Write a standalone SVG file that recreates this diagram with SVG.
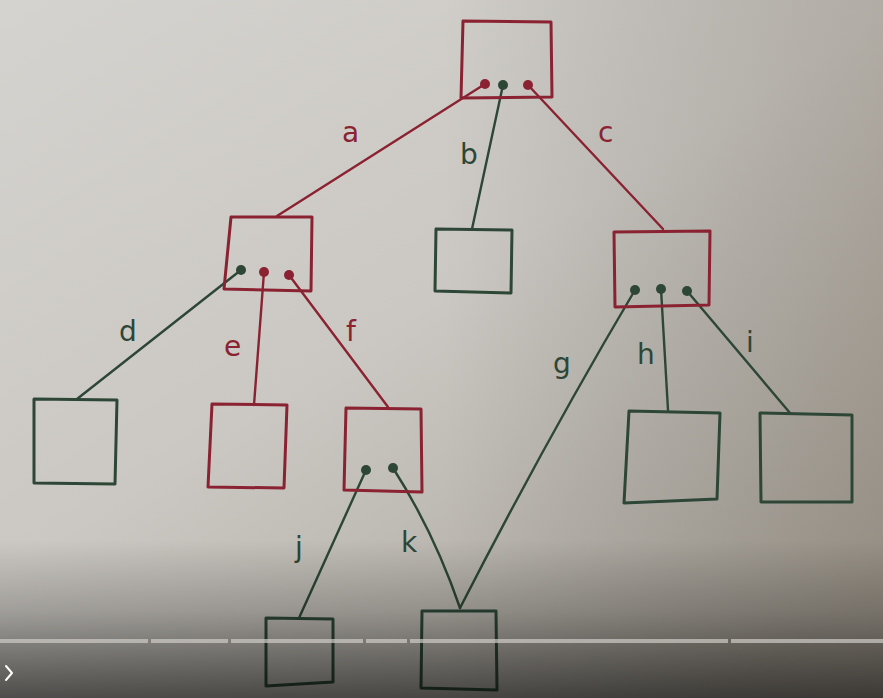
<svg xmlns="http://www.w3.org/2000/svg" width="883" height="698" viewBox="0 0 883 698">
  <defs>
    <linearGradient id="paper" x1="0" y1="0" x2="0.8" y2="1">
      <stop offset="0" stop-color="#d5d3cf"/>
      <stop offset="0.5" stop-color="#cbc8c3"/>
      <stop offset="1" stop-color="#a9a49b"/>
    </linearGradient>
    <linearGradient id="shade" x1="0" y1="0" x2="0" y2="1">
      <stop offset="0" stop-color="#000" stop-opacity="0"/>
      <stop offset="0.45" stop-color="#000" stop-opacity="0.2"/>
      <stop offset="1" stop-color="#000" stop-opacity="0.6"/>
    </linearGradient>
    <linearGradient id="shadeX" x1="0" y1="0" x2="1" y2="0">
      <stop offset="0" stop-color="#000" stop-opacity="0"/>
      <stop offset="0.5" stop-color="#000" stop-opacity="0"/>
      <stop offset="1" stop-color="#3a2a18" stop-opacity="0.18"/>
    </linearGradient>
  </defs>
  <style>
    .red { stroke: #8a2232; }
    .green { stroke: #2d4636; }
    .box { fill: none; stroke-width: 3; stroke-linejoin: round; stroke-linecap: round; }
    .edge { fill: none; stroke-width: 2.4; stroke-linecap: round; }
    .dotr { fill: #8a2232; }
    .dotg { fill: #2d4636; }
    .lbl { font-family: "DejaVu Sans", "Noto Sans", sans-serif; font-size: 28px; }
    .lr { fill: #8a2232; }
    .lg { fill: #2d4636; }
  </style>

  <!-- paper -->
  <rect width="883" height="698" fill="url(#paper)"/>
  <rect width="883" height="698" fill="url(#shadeX)"/>

  <!-- connectors -->
  <g id="connectors">
    <path class="edge red" d="M485 84 L277 216"/>
    <path class="edge green" d="M503 85 L472 229"/>
    <path class="edge red" d="M528 85 L663 229"/>
    <path class="edge green" d="M241 270 L77 399"/>
    <path class="edge red" d="M264 272 L254 405"/>
    <path class="edge red" d="M289 275 L388 407"/>
    <path class="edge green" d="M635 290 Q545 442 460 608"/>
    <path class="edge green" d="M661 289 L668 410"/>
    <path class="edge green" d="M687 291 L790 413"/>
    <path class="edge green" d="M366 470 L299 618"/>
    <path class="edge green" d="M393 468 Q434 532 460 608"/>

    <text class="lbl lr" x="342" y="142">a</text>
    <text class="lbl lg" x="460" y="164">b</text>
    <text class="lbl lr" x="598" y="142">c</text>
    <text class="lbl lg" x="119" y="341">d</text>
    <text class="lbl lr" x="224" y="356">e</text>
    <text class="lbl lr" x="346" y="341">f</text>
    <text class="lbl lg" x="553" y="373">g</text>
    <text class="lbl lg" x="637" y="364">h</text>
    <text class="lbl lg" x="746" y="352">i</text>
    <text class="lbl lg" x="295" y="557">j</text>
    <text class="lbl lg" x="401" y="552">k</text>
  </g>

  <!-- nodes -->
  <g id="root">
    <path class="box red" d="M463 21 L551 22 L552 97 L461 98 Z"/>
    <circle class="dotr" cx="485" cy="84" r="5"/>
    <circle class="dotg" cx="503" cy="85" r="5"/>
    <circle class="dotr" cx="528" cy="85" r="5"/>
  </g>
  <g id="node-a">
    <path class="box red" d="M231 217 L312 217 L311 291 L224 289 Z"/>
    <circle class="dotg" cx="241" cy="270" r="5"/>
    <circle class="dotr" cx="264" cy="272" r="5"/>
    <circle class="dotr" cx="289" cy="275" r="5"/>
  </g>
  <g id="node-b">
    <path class="box green" d="M436 229 L512 230 L511 293 L435 291 Z"/>
  </g>
  <g id="node-c">
    <path class="box red" d="M614 232 L710 231 L709 305 L615 307 Z"/>
    <circle class="dotg" cx="635" cy="290" r="5"/>
    <circle class="dotg" cx="661" cy="289" r="5"/>
    <circle class="dotg" cx="687" cy="291" r="5"/>
  </g>
  <g id="node-d">
    <path class="box green" d="M34 399 L117 400 L115 484 L34 483 Z"/>
  </g>
  <g id="node-e">
    <path class="box red" d="M212 404 L287 405 L284 488 L208 487 Z"/>
  </g>
  <g id="node-f">
    <path class="box red" d="M346 408 L421 409 L422 492 L344 490 Z"/>
    <circle class="dotg" cx="366" cy="470" r="5"/>
    <circle class="dotg" cx="393" cy="468" r="5"/>
  </g>
  <g id="node-h">
    <path class="box green" d="M629 411 L720 413 L717 499 L624 503 Z"/>
  </g>
  <g id="node-i">
    <path class="box green" d="M760 413 L852 415 L852 502 L761 502 Z"/>
  </g>
  <g id="node-j">
    <path class="box green" d="M266 618 L333 619 L333 682 L266 686 Z"/>
  </g>
  <g id="node-k">
    <path class="box green" d="M422 611 L496 611 L497 690 L421 688 Z"/>
  </g>

  <!-- player overlay -->
  <rect y="540" width="883" height="158" fill="url(#shade)"/>
  <g fill="#cfccc7" opacity="0.7">
    <rect x="0" y="639" width="148" height="4"/>
    <rect x="151" y="639" width="77" height="4"/>
    <rect x="231" y="639" width="132" height="4"/>
    <rect x="366" y="639" width="41" height="4"/>
    <rect x="410" y="639" width="318" height="4"/>
    <rect x="731" y="639" width="152" height="4"/>
  </g>
  <path d="M6 666 L12 673 L6 680" fill="none" stroke="#fff" stroke-width="2" stroke-linecap="round" stroke-linejoin="round"/>
</svg>
